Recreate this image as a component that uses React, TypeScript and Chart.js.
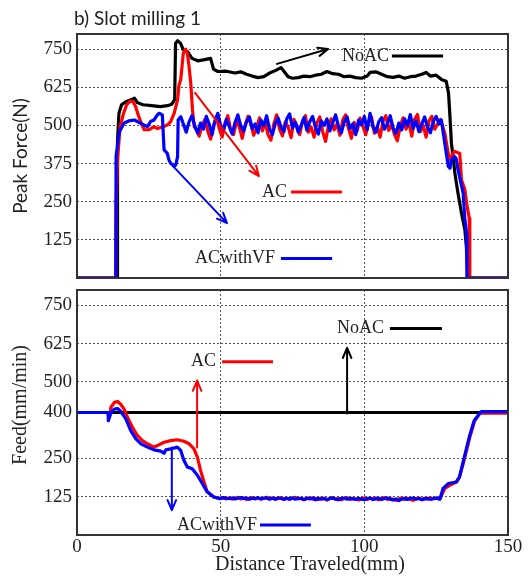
import React, { useEffect, useRef } from "react";
import { Chart, registerables } from "chart.js";
Chart.register(...registerables);

// ---------- axis ticks ----------
const X_TICKS = [0, 50, 100, 150];
const FORCE_TICKS = [125, 250, 375, 500, 625, 750];
const FEED_TICKS = [125, 250, 400, 500, 625, 750];

// ---------- top panel: Peak Force (N) ----------
const forceNoAC: [number, number][] = [
  [0, 0], [14, 0], [14.1, 450], [14.6, 540], [15.5, 568], [17, 578], [19, 585], [20, 590], [21, 575],
  [23, 568], [26, 565], [29, 562], [31.5, 565], [33, 570], [34, 585], [34.3, 770], [35, 778], [36, 770],
  [37, 748], [38.5, 742], [40, 720], [42, 712], [44, 715], [46.5, 720], [47.5, 685], [49, 677], [52, 678],
  [55, 672], [57, 676], [59, 668], [61, 662], [63, 657], [65, 660], [67, 672], [69, 680], [71, 690],
  [72, 678], [73.5, 660], [75, 655], [77, 657], [79, 662], [81, 660], [83, 665], [85, 668], [87, 677],
  [89, 670], [91, 668], [93, 660], [95, 662], [97, 657], [99, 655], [101, 662], [102, 674], [104, 676],
  [106, 668], [108, 660], [110, 658], [112, 662], [114, 655], [116, 660], [118, 662], [120, 668],
  [121.5, 674], [123, 662], [125, 665], [127, 650], [128.5, 645], [129.3, 606], [129.8, 529], [130.3, 442],
  [130.9, 398], [131.5, 344], [132.6, 278], [133.8, 213], [135, 158], [135.5, 104], [136.1, 0], [150, 0],
];

const forceAC: [number, number][] = [
  [0, 0], [13.5, 0], [13.6, 234], [14.1, 387], [15, 496], [16.2, 540], [17.3, 568], [18.5, 580], [19.5, 578],
  [20.4, 562], [21.5, 529], [22.6, 502], [23.4, 486], [25, 486], [26.8, 496], [28, 490], [30, 496],
  [31.5, 502], [32.6, 513], [33.8, 540], [35, 584], [35.5, 633], [36.1, 650], [37, 737], [37.8, 750],
  [38.4, 737], [39, 693], [39.6, 638], [40.2, 551], [40.8, 496], [41.6, 486],
  [42.5, 465], [43.5, 498], [44.5, 520], [45.5, 482], [46.5, 455], [47.5, 500], [48.5, 528], [49.5, 490],
  [50.5, 462], [51.5, 508], [52.5, 532], [53.5, 486], [54.5, 470], [55.5, 515], [56.5, 495], [57.5, 458],
  [58.5, 500], [59.5, 530], [60.5, 505], [61.5, 468], [62.5, 492], [63.5, 525], [64.5, 482], [65.5, 510],
  [66.5, 470], [67.5, 452], [68.5, 505], [69.5, 535], [70.5, 488], [71.5, 466], [72.5, 512], [73.5, 495],
  [74.5, 460], [75.5, 520], [76.5, 500], [77.5, 470], [78.5, 515], [79.5, 532], [80.5, 478], [81.5, 495],
  [82.5, 462], [83.5, 508], [84.5, 528], [85.5, 480], [86.5, 448], [87.5, 500], [88.5, 522], [89.5, 486],
  [90.5, 505], [91.5, 468], [92.5, 518], [93.5, 535], [94.5, 490], [95.5, 458], [96.5, 510], [97.5, 482],
  [98.5, 524], [99.5, 498], [100.5, 470], [101.5, 512], [102.5, 528], [103.5, 475], [104.5, 496],
  [105.5, 462], [106.5, 515], [107.5, 532], [108.5, 484], [109.5, 505], [110.5, 470], [111.5, 450],
  [112.5, 498], [113.5, 525], [114.5, 488], [115.5, 510], [116.5, 465], [117.5, 520], [118.5, 536],
  [119.5, 480], [120.5, 500], [121.5, 462], [122.5, 515], [123.5, 530], [124.5, 488], [125.5, 505],
  [126.5, 520],
  [128, 475], [129.2, 409], [129.8, 387], [130.3, 398], [130.9, 409], [131.5, 415], [132.6, 411],
  [133.2, 409], [133.8, 322], [135, 289], [135.6, 245], [136.5, 196], [136.7, 0], [150, 0],
];

const forceACwithVF: [number, number][] = [
  [0, 0], [13.5, 0], [13.6, 398], [14.3, 453], [14.8, 480], [16.4, 508], [18, 515], [20, 518], [22, 508],
  [24.5, 496], [25.6, 513], [26.8, 518], [28, 535], [28.6, 540], [29.7, 535], [30.3, 420], [31.4, 409],
  [32, 387], [32.6, 376], [33.8, 366], [34.4, 371], [35, 398], [35.2, 518], [36.1, 529], [37.2, 500],
  [38, 478], [39, 512], [40, 532], [41, 498], [42, 475], [43, 508], [44, 488], [45, 530], [46, 505],
  [47, 470], [48, 515], [49, 540], [50, 500], [51, 485], [52, 520], [53, 496], [54, 472], [55, 510],
  [56, 535], [57, 498], [58, 482], [59, 512], [60, 528], [61, 490], [62, 505], [63, 476], [64, 518],
  [65, 500], [66, 532], [67, 488], [68, 470], [69, 506], [70, 525], [71, 495], [72, 480], [73, 522],
  [74, 538], [75, 492], [76, 510], [77, 478], [78, 500], [79, 526], [80, 485], [81, 512], [82, 530],
  [83, 494], [84, 472], [85, 515], [86, 500], [87, 522], [88, 482], [89, 508], [90, 535], [91, 498],
  [92, 476], [93, 512], [94, 528], [95, 490], [96, 505], [97, 470], [98, 518], [99, 502], [100, 530],
  [101, 486], [102, 540], [103, 495], [104, 478], [105, 512], [106, 526], [107, 488], [108, 504],
  [109, 532], [110, 492], [111, 474], [112, 508], [113, 486], [114, 522], [115, 500], [116, 536],
  [117, 490], [118, 515], [119, 480], [120, 505], [121, 528], [122, 494], [123, 476], [124, 514],
  [125, 530], [126, 505], [126.8, 518],
  [128, 442], [129.2, 366], [129.8, 360], [130.3, 387], [131.5, 398], [132, 390], [132.6, 355],
  [133.2, 330], [134.4, 278], [135, 191], [135.6, 147], [135.7, 0], [150, 0],
];

// ---------- bottom panel: Feed (mm/min) ----------
const feedNoAC: [number, number][] = [
  [0, 400], [150, 400],
];

const feedAC: [number, number][] = [
  [0, 400], [11.2, 400], [11.3, 384], [11.8, 417], [13, 433], [14.1, 436], [15.2, 427], [16.4, 411],
  [17.6, 384], [19.3, 352], [21, 325], [22.8, 308], [24.5, 298], [26.8, 287], [28, 292], [30.3, 303],
  [32.6, 308], [34.9, 311], [37.2, 306], [39, 298], [40.7, 281], [41.9, 254], [43, 211], [44.2, 173],
  [45.3, 141], [47.6, 124], [50, 119],
  [51, 121], [52, 118], [53, 122], [54, 117], [55, 120], [56, 123], [57, 118], [58, 121], [59, 116],
  [60, 120], [61, 122], [62, 118], [63, 121], [64, 117], [65, 120], [66, 123], [67, 119], [68, 121],
  [69, 116], [70, 119], [71, 122], [72, 118], [73, 120], [74, 116], [75, 121], [76, 123], [77, 118],
  [78, 120], [79, 115], [80, 119], [81, 122], [82, 117], [83, 120], [84, 116], [85, 121], [86, 118],
  [87, 114], [88, 119], [89, 122], [90, 117], [91, 120], [92, 115], [93, 119], [94, 122], [95, 116],
  [96, 120], [97, 118], [98, 114], [99, 119], [100, 121], [101, 116], [102, 120], [103, 117], [104, 121],
  [105, 115], [106, 119], [107, 122], [108, 116], [109, 120], [110, 117], [111, 113], [112, 118],
  [113, 121], [114, 116], [115, 120], [116, 117], [117, 113], [118, 119], [119, 121], [120, 116],
  [121, 120], [122, 117], [123, 122], [124, 118], [125, 120], [126.3, 118],
  [128, 152], [129.7, 162], [132, 173], [133.1, 189], [135, 254], [136.7, 319], [138.4, 373],
  [140.2, 398], [150, 398],
];

const feedACwithVF: [number, number][] = [
  [0, 400], [10.8, 400], [10.9, 373], [11.8, 400], [13, 411], [14.1, 413], [15.2, 404], [17, 379],
  [18.7, 341], [20.5, 314], [22.2, 298], [24.5, 287], [26.8, 278], [29.1, 274], [30.3, 267], [30.9, 278],
  [32.6, 281], [34.9, 287], [36.1, 276], [37.2, 244], [38.4, 222], [40.1, 216], [41.9, 195], [43.6, 168],
  [45.3, 141], [47.6, 124], [49.4, 119],
  [51, 122], [52, 120], [53, 119], [54, 121], [55, 118], [56, 120], [57, 122], [58, 119], [59, 121],
  [60, 117], [61, 120], [62, 119], [63, 122], [64, 118], [65, 120], [66, 121], [67, 117], [68, 120],
  [69, 118], [70, 121], [71, 119], [72, 116], [73, 120], [74, 118], [75, 121], [76, 117], [77, 120],
  [78, 119], [79, 116], [80, 120], [81, 118], [82, 121], [83, 115], [84, 119], [85, 117], [86, 120],
  [87, 116], [88, 119], [89, 121], [90, 117], [91, 115], [92, 119], [93, 121], [94, 117], [95, 120],
  [96, 118], [97, 116], [98, 120], [99, 117], [100, 115], [101, 119], [102, 121], [103, 116], [104, 118],
  [105, 120], [106, 116], [107, 119], [108, 121], [109, 117], [110, 114], [111, 118], [112, 112],
  [113, 117], [114, 120], [115, 116], [116, 119], [117, 121], [118, 117], [119, 119], [120, 115],
  [121, 118], [122, 120], [123, 116], [124, 119], [125, 121], [126.3, 117],
  [127.4, 152], [129.2, 168], [132, 173], [133.1, 189], [134.8, 254], [136.5, 319], [138.2, 373],
  [140.7, 403], [150, 403],
];

// ---------- annotations (data coordinates) ----------
type Note = { text: string; x: number; y: number; color: string; from: number; to: number };
type Arrow = { color: string; from: [number, number]; to: [number, number] };

const topNotes: Note[] = [
  { text: "NoAC", x: 92.2, y: 728, color: "#000000", from: 109.6, to: 127.4 },
  { text: "AC", x: 64.4, y: 282, color: "#ff0000", from: 74.5, to: 92.2 },
  { text: "ACwithVF", x: 41.1, y: 64, color: "#0000ff", from: 71, to: 88.8 },
];
const topArrows: Arrow[] = [
  { color: "#000000", from: [69.6, 702], to: [87.4, 751] },
  { color: "#ff0000", from: [41.1, 607], to: [63.3, 334] },
  { color: "#0000ff", from: [33.4, 367], to: [52.2, 180] },
];
const bottomNotes: Note[] = [
  { text: "NoAC", x: 90.5, y: 674, color: "#000000", from: 108.9, to: 127 },
  { text: "AC", x: 39.7, y: 566, color: "#ff0000", from: 50.5, to: 68.2 },
  { text: "ACwithVF", x: 34.8, y: 33, color: "#0000ff", from: 63.7, to: 81.4 },
];
const bottomArrows: Arrow[] = [
  { color: "#000000", from: [94, 397], to: [94, 611] },
  { color: "#ff0000", from: [41.8, 286], to: [41.8, 504] },
  { color: "#0000ff", from: [33, 286], to: [33, 81] },
];

const SERIF = '"Liberation Serif", "Times New Roman", serif';
const SANS = 'Lato, "Open Sans", sans-serif';
const TEXT = "#222222";

function drawArrow(ctx: CanvasRenderingContext2D, x1: number, y1: number, x2: number, y2: number, color: string) {
  const ang = Math.atan2(y2 - y1, x2 - x1);
  const head = 11;
  ctx.save();
  ctx.strokeStyle = color;
  ctx.lineWidth = 2;
  ctx.lineCap = "round";
  ctx.beginPath();
  ctx.moveTo(x1, y1);
  ctx.lineTo(x2, y2);
  ctx.moveTo(x2, y2);
  ctx.lineTo(x2 - head * Math.cos(ang - 0.4), y2 - head * Math.sin(ang - 0.4));
  ctx.moveTo(x2, y2);
  ctx.lineTo(x2 - head * Math.cos(ang + 0.4), y2 - head * Math.sin(ang + 0.4));
  ctx.stroke();
  ctx.restore();
}

function makePlugin(notes: Note[], arrows: Arrow[], extra: (chart: any) => void) {
  return {
    id: "decor",
    afterDraw(chart: any) {
      const ctx: CanvasRenderingContext2D = chart.ctx;
      const xs = chart.scales.x;
      const ys = chart.scales.y;
      const a = chart.chartArea;
      ctx.save();
      ctx.strokeStyle = "#333333";
      ctx.lineWidth = 2;
      ctx.setLineDash([]);
      ctx.strokeRect(a.left, a.top, a.right - a.left, a.bottom - a.top);
      ctx.restore();
      arrows.forEach((ar) => {
        drawArrow(
          ctx,
          xs.getPixelForValue(ar.from[0]), ys.getPixelForValue(ar.from[1]),
          xs.getPixelForValue(ar.to[0]), ys.getPixelForValue(ar.to[1]),
          ar.color
        );
      });
      notes.forEach((n) => {
        const px = xs.getPixelForValue(n.x);
        const py = ys.getPixelForValue(n.y);
        ctx.save();
        ctx.font = `18px ${SERIF}`;
        ctx.fillStyle = TEXT;
        ctx.textAlign = "left";
        ctx.textBaseline = "middle";
        ctx.fillText(n.text, px, py);
        ctx.strokeStyle = n.color;
        ctx.lineWidth = 3;
        ctx.beginPath();
        ctx.moveTo(xs.getPixelForValue(n.from), py);
        ctx.lineTo(xs.getPixelForValue(n.to), py);
        ctx.stroke();
        ctx.restore();
      });
      extra(chart);
    },
  };
}

function lineDs(label: string, data: [number, number][], color: string) {
  return {
    label,
    data: data.map(([x, y]) => ({ x, y })),
    borderColor: color,
    backgroundColor: color,
    borderWidth: 3.2,
    pointRadius: 0,
    tension: 0,
    borderJoinStyle: "round" as const,
    fill: false,
  };
}

function makeOptions(yTicks: number[], showX: boolean, xHeight: number, padding: any) {
  const gridOpts = { color: "#555555", lineWidth: 1, drawTicks: false, borderDash: [2, 2] };
  return {
    animation: false as const,
    responsive: false,
    devicePixelRatio: 1,
    layout: { padding },
    plugins: { legend: { display: false }, title: { display: false }, tooltip: { enabled: false } },
    scales: {
      x: {
        type: "linear" as const,
        min: 0,
        max: 150,
        afterBuildTicks: (s: any) => {
          s.ticks = X_TICKS.map((v) => ({ value: v }));
        },
        ticks: {
          display: showX,
          autoSkip: false,
          maxRotation: 0,
          padding: 1,
          color: TEXT,
          font: { family: SERIF, size: 19 },
        },
        grid: gridOpts,
        border: { display: false, dash: [2, 2] },
        afterFit: (s: any) => {
          s.height = xHeight;
          s.paddingLeft = 0;
          s.paddingRight = 0;
        },
      },
      y: {
        type: "linear" as const,
        min: 0,
        max: 800,
        afterBuildTicks: (s: any) => {
          s.ticks = yTicks.map((v) => ({ value: v }));
        },
        ticks: {
          autoSkip: false,
          padding: 5,
          color: TEXT,
          font: { family: SERIF, size: 19 },
        },
        grid: gridOpts,
        border: { display: false, dash: [2, 2] },
        afterFit: (s: any) => {
          s.width = 77;
          s.paddingTop = 0;
          s.paddingBottom = 0;
        },
      },
    },
  };
}

export default function App() {
  const topRef = useRef<HTMLCanvasElement>(null);
  const botRef = useRef<HTMLCanvasElement>(null);

  useEffect(() => {
    const topExtra = (chart: any) => {
      const ctx: CanvasRenderingContext2D = chart.ctx;
      const a = chart.chartArea;
      ctx.save();
      ctx.fillStyle = TEXT;
      ctx.font = `19px ${SANS}`;
      ctx.textAlign = "left";
      ctx.textBaseline = "middle";
      ctx.fillText("b) Slot milling 1", 74, 19);
      ctx.translate(21, (a.top + a.bottom) / 2);
      ctx.rotate(-Math.PI / 2);
      ctx.textAlign = "center";
      ctx.fillText("Peak Force(N)", 0, 0);
      ctx.restore();
    };
    const botExtra = (chart: any) => {
      const ctx: CanvasRenderingContext2D = chart.ctx;
      ctx.save();
      ctx.fillStyle = TEXT;
      ctx.font = `20px ${SERIF}`;
      ctx.textAlign = "center";
      ctx.textBaseline = "middle";
      ctx.fillText("Distance Traveled(mm)", 310, 281);
      ctx.translate(21, 121);
      ctx.rotate(-Math.PI / 2);
      ctx.fillText("Feed(mm/min)", 0, 0);
      ctx.restore();
    };

    const top = new Chart(topRef.current!, {
      type: "line",
      data: {
        datasets: [
          lineDs("ACwithVF", forceACwithVF, "#0000ff"),
          lineDs("AC", forceAC, "#ff0000"),
          lineDs("NoAC", forceNoAC, "#000000"),
        ],
      },
      options: makeOptions(FORCE_TICKS, false, 0, { top: 34, right: 24, bottom: 6, left: 0 }) as any,
      plugins: [makePlugin(topNotes, topArrows, topExtra)],
    });
    const bot = new Chart(botRef.current!, {
      type: "line",
      data: {
        datasets: [
          lineDs("ACwithVF", feedACwithVF, "#0000ff"),
          lineDs("AC", feedAC, "#ff0000"),
          lineDs("NoAC", feedNoAC, "#000000"),
        ],
      },
      options: makeOptions(FEED_TICKS, true, 44, { top: 6, right: 24, bottom: 0, left: 0 }) as any,
      plugins: [makePlugin(bottomNotes, bottomArrows, botExtra)],
    });
    return () => {
      top.destroy();
      bot.destroy();
    };
  }, []);

  return (
    <div style={{ position: "absolute", left: 0, top: 0, width: 532, height: 579, background: "#ffffff" }}>
      <canvas ref={topRef} width={532} height={284} style={{ position: "absolute", left: 0, top: 0, width: 532, height: 284 }} />
      <canvas ref={botRef} width={532} height={295} style={{ position: "absolute", left: 0, top: 284, width: 532, height: 295 }} />
    </div>
  );
}
